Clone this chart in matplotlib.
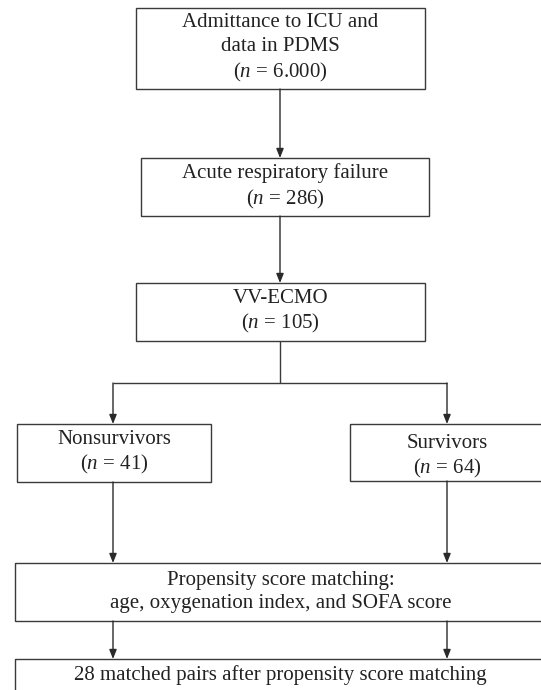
import matplotlib
matplotlib.use("Agg")
import matplotlib.pyplot as plt
from matplotlib.patches import Rectangle

plt.rcParams["font.family"] = ["Liberation Serif", "DejaVu Serif"]
plt.rcParams["mathtext.fontset"] = "custom"
plt.rcParams["mathtext.rm"] = "Liberation Serif"
plt.rcParams["mathtext.it"] = "Liberation Serif:italic"

# flowchart content
stage_titles = [
    "Admittance to ICU and\ndata in PDMS",
    "Acute respiratory failure",
    "VV-ECMO",
]
stage_counts = ["6.000", "286", "105"]
group_titles = ["Nonsurvivors", "Survivors"]
group_counts = ["41", "64"]
matching_text = "Propensity score matching:\nage, oxygenation index, and SOFA score"
result_text = "28 matched pairs after propensity score matching"

EDGE = "#3a3a3a"
LW = 1.0
FS = 15

fig = plt.figure(figsize=(5.41, 6.9), dpi=100)
ax = fig.add_axes([0, 0, 1, 1])
ax.set_xlim(0, 541)
ax.set_ylim(690, 0)
ax.axis("off")


def box(x0, y0, x1, y1, text, ty=None):
    ax.add_patch(Rectangle((x0, y0), x1 - x0, y1 - y0, fill=False,
                           edgecolor=EDGE, linewidth=LW, clip_on=True))
    cy = (y0 + y1) / 2 if ty is None else ty
    ax.text((x0 + x1) / 2, cy, text, ha="center", va="center",
            fontsize=FS, linespacing=1.3, color="#222222")


def arrow(x, y0, y1):
    ax.annotate("", xy=(x, y1), xytext=(x, y0),
                arrowprops=dict(arrowstyle="-|>,head_length=0.55,head_width=0.22",
                                color="#2a2a2a", lw=LW, shrinkA=0, shrinkB=0,
                                mutation_scale=10))


def label(title, count):
    return f"{title}\n($n$ = {count})"


# main column
stage_boxes = [(136, 8, 425, 89), (141, 158, 429, 216), (136, 283, 425, 341)]
for (x0, y0, x1, y1), t, n in zip(stage_boxes, stage_titles, stage_counts):
    box(x0, y0, x1, y1, label(t, n))
arrow(280, 89, 158)
arrow(280, 216, 283)

# split into outcome groups
ax.plot([280, 280], [341, 383], color=EDGE, lw=LW, solid_capstyle="butt")
ax.plot([113, 447], [383, 383], color=EDGE, lw=LW, solid_capstyle="butt")
arrow(113, 383, 424)
arrow(447, 383, 424)

group_boxes = [(17, 424, 211, 482), (350, 424, 545, 481)]
group_text_y = [453, 457]
for (x0, y0, x1, y1), t, n, ty in zip(group_boxes, group_titles, group_counts, group_text_y):
    box(x0, y0, x1, y1, label(t, n), ty=ty)

arrow(113, 482, 563)
arrow(447, 481, 563)
box(15, 563, 546, 621, matching_text)

arrow(113, 621, 659)
arrow(447, 621, 659)
box(15, 659, 546, 720, result_text, ty=675)

fig.savefig("out.png", dpi=100)
